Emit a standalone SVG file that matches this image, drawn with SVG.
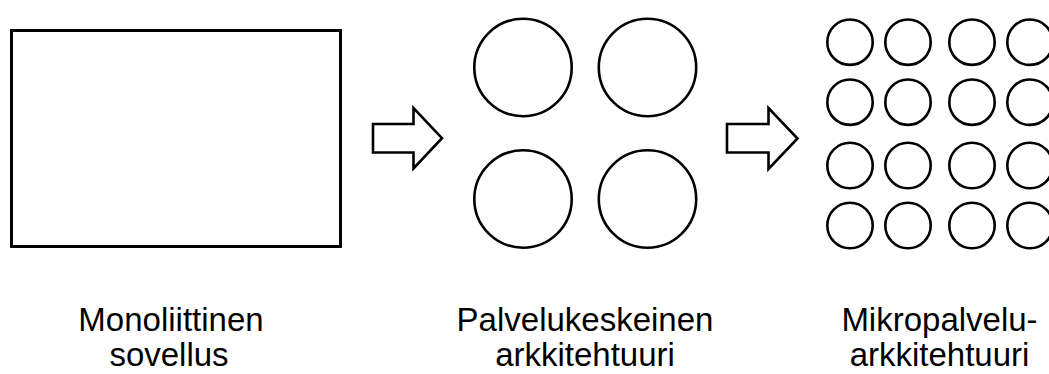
<svg xmlns="http://www.w3.org/2000/svg" width="1049" height="374" viewBox="0 0 1049 374">
  <style>
    .shape { fill: #ffffff; stroke: #000000; stroke-width: 2.6; }
    .box { fill: #ffffff; stroke: #000000; stroke-width: 3; }
    .arrow { fill: #ffffff; stroke: #000000; stroke-width: 2.6; stroke-linejoin: miter; }
    .label { font-family: "Liberation Sans", Arial, sans-serif; font-size: 33px; fill: #000000; text-anchor: middle; }
  </style>
  <rect width="1049" height="374" fill="#ffffff"/>

  <!-- monolithic application -->
  <g id="monolith">
    <rect class="box" x="11.5" y="30.5" width="329" height="216"/>
    <text class="label" x="171" y="331">Monoliittinen</text>
    <text class="label" x="169" y="366">sovellus</text>
  </g>

  <!-- service-oriented architecture: four services -->
  <g id="soa">
    <circle class="shape" cx="523" cy="67.5" r="48.7"/>
    <circle class="shape" cx="647.5" cy="67.5" r="48.7"/>
    <circle class="shape" cx="523" cy="199" r="48.7"/>
    <circle class="shape" cx="647.5" cy="199" r="48.7"/>
    <text class="label" x="585" y="331">Palvelukeskeinen</text>
    <text class="label" x="585" y="366">arkkitehtuuri</text>
  </g>

  <!-- microservice architecture: 4x4 grid of small services -->
  <g id="microservices">
    <g>
      <circle class="shape" cx="850" cy="42.2" r="22.7"/>
      <circle class="shape" cx="908" cy="42.2" r="22.7"/>
      <circle class="shape" cx="972" cy="42.2" r="22.7"/>
      <circle class="shape" cx="1030" cy="42.2" r="22.7"/>
      <circle class="shape" cx="850" cy="102.2" r="22.7"/>
      <circle class="shape" cx="908" cy="102.2" r="22.7"/>
      <circle class="shape" cx="972" cy="102.2" r="22.7"/>
      <circle class="shape" cx="1030" cy="102.2" r="22.7"/>
      <circle class="shape" cx="850" cy="165.5" r="22.7"/>
      <circle class="shape" cx="908" cy="165.5" r="22.7"/>
      <circle class="shape" cx="972" cy="165.5" r="22.7"/>
      <circle class="shape" cx="1030" cy="165.5" r="22.7"/>
      <circle class="shape" cx="850" cy="225.5" r="22.7"/>
      <circle class="shape" cx="908" cy="225.5" r="22.7"/>
      <circle class="shape" cx="972" cy="225.5" r="22.7"/>
      <circle class="shape" cx="1030" cy="225.5" r="22.7"/>
    </g>
    <text class="label" x="939.5" y="331">Mikropalvelu-</text>
    <text class="label" x="939.5" y="366">arkkitehtuuri</text>
  </g>

  <!-- block arrows between the stages -->
  <g id="connectors">
    <polygon class="arrow" points="373,124 413.5,124 413.5,108 442,138.2 413.5,168.5 413.5,152.5 373,152.5"/>
    <polygon class="arrow" points="727,124 768.5,124 768.5,108 797.5,138.5 768.5,169 768.5,152.5 727,152.5"/>
  </g>
</svg>
